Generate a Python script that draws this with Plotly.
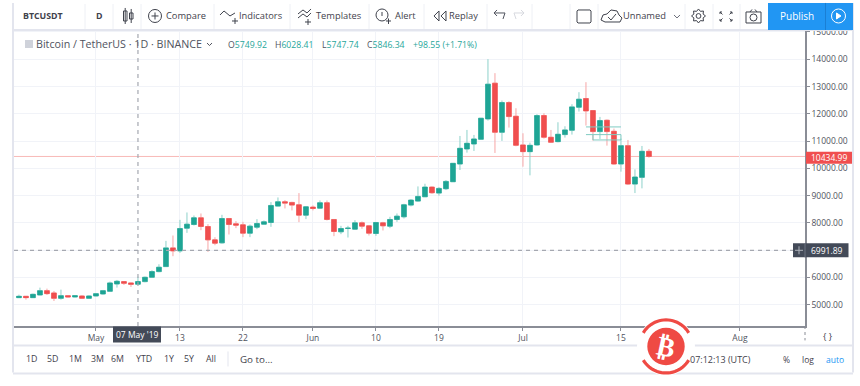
import math
import pandas as pd
import plotly.graph_objects as go

W, H = 860, 386
L, R, T, B = 14, 805, 30, 325.6

start_date = "2019-04-20"
opens = [5257,5306,5257,5355,5514,5429,5232,5330,5281,5318,5232,5318,5392,5490,5759,5845,5796,5749.92,5845,6004,
         6212,6396,7082,6972,7805,7940,8185,7866,7376,7266,8160,7965,7928,7622,7842,7952,8014,8614,8773,8749,
         8663,8283,8577,8540,8736,8124,7671,7793,7769,8001,7891,7610,8001,7879,8124,8222,8651,8798,8957,9312,
         9092,9251,9509,10158,10710,10893,11065,11812,13123,11322,12412,11910,10857,10612,10857,11935,11139,10979,11237,11396,
         12241,12560,12118,11347,11763,11359,10158,10832,9423,9668,10624]
highs = [5367,5306,5404,5625,5588,5502,5551,5343,5343,5343,5343,5416,5539,5845,5906,5857,5808,6028.41,6029,6261,
         6482,7340,7536,8111,8381,8270,8344,7952,7474,8295,8160,8063,8038,7940,8136,8087,8761,8932,8834,8773,
         9092,8614,8638,8822,8822,8124,7891,7891,8099,8050,7916,8014,8038,8222,8344,8700,8871,9337,9435,9337,
         9312,9569,10183,11187,11408,11224,11837,14005,13491,12486,12461,12204,11285,10942,11984,12020,11408,11690,11543,12351,
         12792,13160,12118,11886,11788,11457,11090,11040,9962,10820,10710]
lows = [5245,5183,5245,5343,5355,5134,5183,5269,5269,5208,5208,5306,5367,5478,5625,5722,5649,5747.74,5820,5992,
        6188,6384,6776,6898,7633,7903,7731,6935,7180,7241,7573,7805,7475,7475,7769,7940,7854,8602,8528,8455,
        8026,8136,8455,8516,8087,7511,7585,7462,7756,7781,7536,7524,7720,7805,8038,8160,8602,8773,8945,9067,
        8994,9202,9497,9938,10575,10636,11040,11751,10563,11004,11494,10808,10060,9742,10832,11090,10930,10955,11126,11236,
        12082,11567,11016,11077,10832,10134,9877,9387,9093,9265,10391]
closes = [5306,5257,5379,5514,5404,5232,5330,5281,5330,5232,5318,5404,5514,5796,5857,5784,5747,5846.34,6004,6212,
          6372,7082,6972,7793,7952,8185,7866,7376,7254,8160,7940,7916,7622,7879,7977,8038,8638,8773,8724,8651,
          8283,8589,8528,8736,8124,7683,7793,7805,8001,7879,7622,8014,7891,8124,8246,8663,8834,8969,9312,9104,
          9263,9520,10183,10734,10918,11077,11837,13086,11322,12412,11898,10844,10612,10844,11935,11139,10955,11249,11408,12253,
          12535,12106,11347,11751,11347,10158,10832,9423,9681,10624,10434.99]

y_ticks = [5000,6000,7000,8000,9000,10000,11000,12000,13000,14000,15000]
y_tick_labels = ["5000.00","6000.00","","8000.00","9000.00","10000.00","11000.00","12000.00","13000.00","14000.00","15000.00"]
x_ticks = ["2019-05-01","2019-05-13","2019-05-22","2019-06-01","2019-06-10","2019-06-19","2019-07-01","2019-07-15","2019-08-01"]
x_tick_labels = ["May","13","22","Jun","10","19","Jul","15","Aug"]

last_price = 10434.99
cross_price = 6991.89
cross_date = "2019-05-07"
level_a = 11518
level_b = 11236
level_c = 11040

TEAL, RED = "#1fa595", "#f04f4f"
TEAL_W, RED_W = "#8ed2ca", "#f7a6a6"
GRID = "#f1f3f8"
EDGE = "#e3e5ee"
INK = "#3f424c"
FONT = "Open Sans"

dates = pd.date_range(start_date, periods=len(opens), freq="D")
body_hi = [max(a, b) for a, b in zip(opens, closes)]
body_lo = [min(a, b) for a, b in zip(opens, closes)]

fig = go.Figure()
fig.add_trace(go.Candlestick(x=dates, open=opens, high=highs, low=lows, close=closes,
    increasing=dict(line=dict(color=TEAL_W, width=1), fillcolor=TEAL_W),
    decreasing=dict(line=dict(color=RED_W, width=1), fillcolor=RED_W),
    showlegend=False, hoverinfo="skip"))
fig.add_trace(go.Candlestick(x=dates, open=opens, high=body_hi, low=body_lo, close=closes,
    increasing=dict(line=dict(color=TEAL, width=0.5), fillcolor=TEAL),
    decreasing=dict(line=dict(color=RED, width=0.5), fillcolor=RED),
    showlegend=False))
for xs, ys in [(["2019-07-10","2019-07-15"], [level_a, level_a]),
               (["2019-07-10","2019-07-15"], [level_b, level_b]),
               (["2019-07-11","2019-07-15"], [level_c, level_c]),
               (["2019-07-11","2019-07-11"], [level_b, level_c]),
               (["2019-07-15","2019-07-15"], [level_b, level_c])]:
    fig.add_trace(go.Scatter(x=xs, y=ys, mode="lines", line=dict(color="#7fcbc2", width=1),
                             showlegend=False, hoverinfo="skip"))

def X(x): return (x - L) / (R - L)
def Y(y): return (B - y) / (B - T)

shapes, notes = [], []
def line(x0, y0, x1, y1, c=EDGE, w=1, dash=None):
    shapes.append(dict(type="line", xref="paper", yref="paper", x0=X(x0), y0=Y(y0), x1=X(x1), y1=Y(y1),
                       line=dict(color=c, width=w, dash=dash or "solid"), layer="above"))
def rect(x0, y0, x1, y1, fill=None, c=None, w=1):
    shapes.append(dict(type="rect", xref="paper", yref="paper", x0=X(x0), y0=Y(y0), x1=X(x1), y1=Y(y1),
                       fillcolor=fill or "rgba(0,0,0,0)", line=dict(color=c or "rgba(0,0,0,0)", width=w if c else 0), layer="above"))
def circle(cx, cy, r, fill=None, c=None, w=1):
    shapes.append(dict(type="circle", xref="paper", yref="paper", x0=X(cx-r), y0=Y(cy-r), x1=X(cx+r), y1=Y(cy+r),
                       fillcolor=fill or "rgba(0,0,0,0)", line=dict(color=c or "rgba(0,0,0,0)", width=w if c else 0), layer="above"))
def poly(pts, c=INK, w=1, fill=None, closed=False):
    p = "M " + " L ".join(f"{X(a):.5f},{Y(b):.5f}" for a, b in pts) + (" Z" if closed else "")
    shapes.append(dict(type="path", xref="paper", yref="paper", path=p, layer="above",
                       fillcolor=fill or "rgba(0,0,0,0)", line=dict(color=c, width=w)))
def text(x, y, s, anchor="left", size=9, c=INK, **kw):
    notes.append(dict(xref="paper", yref="paper", x=X(x), y=Y(y), text=s, showarrow=False, xanchor=anchor,
                      yanchor="middle", borderpad=0, borderwidth=0, font=dict(family=FONT, size=size, color=c), **kw))
def arc(cx, cy, r, a0, a1, c, w):
    pts = [(cx + r*math.sin(math.radians(a0 + (a1-a0)*i/24)), cy - r*math.cos(math.radians(a0 + (a1-a0)*i/24))) for i in range(25)]
    poly(pts, c=c, w=w)

# Panel frame and toolbars
rect(13, 3, 853, 30, fill="white")
line(13, 30, 853, 30, c=EDGE, w=2)
line(13, 3, 13, 372, c=EDGE, w=2)
line(853, 3, 853, 372, c=EDGE, w=2)
line(13, 345, 853, 345, c=EDGE, w=2)
line(13, 373, 853, 373, c=EDGE, w=2)
for sx in [85, 113, 141, 214, 290, 369, 424, 487, 532, 570, 598, 685, 713, 740]:
    line(sx, 4, sx, 29, c="#eef0f5")
line(228, 351, 228, 366, c=EDGE)
line(805, 325.6, 805, 340, c="#8a8d96", w=1, dash="dot")

# Toolbar text
text(23, 16, "<b>BTCUSDT</b>", size=8.8)
text(99, 16, "<b>D</b>", "center", size=8.8)
text(166, 16, "Compare", size=9.3)
text(239, 16, "Indicators", size=9.3)
text(316, 16, "Templates", size=9.3)
text(395, 16, "Alert", size=9.3)
text(449, 16, "Replay", size=9.3)
text(623, 16, "Unnamed", size=9.3)

# Toolbar icons
rect(123.5, 11, 127, 21, c=INK); line(125.2, 8, 125.2, 24, c=INK)
rect(129.5, 13, 133, 19, c=INK); line(131.2, 9, 131.2, 23, c=INK)
circle(155, 16, 6.5, c=INK); line(151.5, 16, 158.5, 16, c=INK); line(155, 12.5, 155, 19.5, c=INK)
poly([(220, 15), (224, 11), (230, 16), (235, 13)], w=1); line(232, 21, 238, 21, c=INK); line(235, 18, 235, 24, c=INK)
poly([(298, 14), (303, 10), (307, 13), (311, 9)], w=1); poly([(298, 18), (303, 14), (307, 17), (311, 13)], w=1)
line(305, 22, 311, 22, c=INK); line(308, 19, 308, 25, c=INK)
circle(382, 15, 6, c=INK); line(382, 12, 382, 16, c=INK); line(386, 21, 391, 21, c=INK); line(388.5, 18.5, 388.5, 24, c=INK)
poly([(439, 11), (434, 16), (439, 21), (439, 11)], w=1); poly([(446, 11), (441, 16), (446, 21), (446, 11)], w=1)
poly([(494, 13), (505, 13), (503, 19)], c="#50535e"); poly([(497, 10), (494, 13), (497, 16)], c="#50535e")
poly([(524, 13), (514, 13), (516, 19)], c="#d7d9df"); poly([(521, 10), (524, 13), (521, 16)], c="#d7d9df")
poly([(578, 10), (590, 10), (591, 11), (591, 22), (590, 23), (578, 23), (577, 22), (577, 11)], closed=True)
poly([(605, 22), (601, 20), (603, 15), (607, 14), (611, 10), (617, 11), (619, 15), (622, 18), (620, 22), (605, 22)], w=1)
poly([(608, 17), (611, 20), (616, 14)], w=1)
poly([(674, 15), (677, 18), (680, 15)], c="#6a6d78")
gear = []
for i in range(16):
    r_g = 7 if i % 2 == 0 else 5
    a_g = math.radians(i * 22.5)
    gear.append((698.5 + r_g * math.cos(a_g), 16 + r_g * math.sin(a_g)))
poly(gear, closed=True); circle(698.5, 16, 2.4, c=INK)
for cx_, cy_, sx_, sy_ in [(720, 12, 1, 1), (732, 12, -1, 1), (720, 21, 1, -1), (732, 21, -1, -1)]:
    line(cx_, cy_, cx_ + 2.5*sx_, cy_ + 2.5*sy_, c=INK)
    poly([(cx_ + 2*sx_, cy_), (cx_, cy_), (cx_, cy_ + 2*sy_)])
rect(746, 12, 761, 23, c=INK); circle(753.5, 17.5, 3.5, c=INK); line(750, 12, 752, 9.5, c=INK); line(757, 12, 755, 9.5, c=INK)
rect(768, 3, 853, 30, fill="#2196f3")
line(825.5, 3, 825.5, 30, c="#1a7fd4")
text(796.5, 16, "Publish", "center", size=10, c="white")
circle(838.5, 16, 7, c="white")
poly([(836.5, 13), (841, 16), (836.5, 19)], c="white", fill="white", closed=True)

# Legend strip
rect(25, 40, 33, 48, fill="#cfd2da")
text(36, 44, "Bitcoin / TetherUS · 1D · BINANCE", size=10.7, c="#50535e")
poly([(207, 43), (209.5, 45.5), (212, 43)], c="#50535e")
def ohlc(x, k, v):
    text(x, 44.5, f"<span style='color:#50535e'>{k}</span><span style='color:#26a69a'>{v}</span>", size=8.7)
ohlc(228, "O", "5749.92"); ohlc(275, "H", "6028.41"); ohlc(322, "L", "5747.74"); ohlc(367, "C", "5846.34")
text(413, 44.5, "+98.55 (+1.71%)", size=8.7, c="#26a69a")

# Price tags
rect(806, 151.5, 852, 163.5, fill="#f04f4f")
text(829, 157.3, f"{last_price:.2f}", "center", size=8.5, c="white")
rect(793, 243, 848.5, 257, fill="#434a58")
line(805, 243, 805, 257, c="#6d7380")
line(795, 250, 803, 250, c="#aeb2bb"); line(799, 246, 799, 254, c="#aeb2bb")
text(827, 250, f"{cross_price:.2f}", "center", size=8.5, c="white")
rect(113, 326, 161, 342, fill="#434a58")
text(137, 334, "07 May '19", "center", size=8.5, c="white")

# Range row
for px, lab in [(31, "1D"), (52, "5D"), (75, "1M"), (97, "3M"), (118, "6M"), (144, "YTD"), (169, "1Y"), (189, "5Y"), (211, "All")]:
    text(px, 359, lab, "center", size=8.8)
text(240, 359, "Go to...", size=9.8)
text(690, 359, "07:12:13 (UTC)", size=9)
text(786, 359, "%", "center", size=8.5)
text(808, 359, "log", "center", size=8.5)
text(835, 359, "auto", "center", size=8.5, c="#2196f3")
text(828, 336, "{ }", "center", size=9)

# Watermark
WM = "#ef4a44"
circle(666, 346, 29, fill="white")
arc(666, 346, 26.5, -59, 59, WM, 3.2)
arc(666, 346, 26.5, 121, 239, WM, 3.2)
circle(666, 346, 18.7, fill=WM)
text(666, 346, "<b>₿</b>", "center", size=27, c="white", textangle=12)
notes[-1]["font"]["family"] = "DejaVu Sans"

# Chart-coordinate lines
shapes.append(dict(type="line", xref="paper", yref="y", x0=0, x1=1, y0=last_price, y1=last_price,
                   line=dict(color="#f8b9b7", width=1), layer="below"))
shapes.append(dict(type="line", xref="paper", yref="y", x0=0, x1=X(793), y0=cross_price, y1=cross_price,
                   line=dict(color="#a5a8b0", width=1.2, dash="4px,4px"), layer="above"))
shapes.append(dict(type="line", xref="x", yref="paper", x0=cross_date, x1=cross_date, y0=0, y1=1,
                   line=dict(color="#a5a8b0", width=1.2, dash="4px,4px"), layer="above"))

fig.update_layout(
    width=W, height=H, autosize=False,
    margin=dict(l=L, r=W-R, t=T, b=H-B, pad=0),
    paper_bgcolor="white", plot_bgcolor="white", showlegend=False,
    boxgap=0.15, boxgroupgap=0.2,
    shapes=shapes, annotations=notes,
    font=dict(family=FONT, size=8.5, color="#50535e"),
    xaxis=dict(type="date", range=["2019-04-19 07:00", "2019-08-10 07:00"], tickmode="array",
               tickvals=x_ticks, ticktext=x_tick_labels, showgrid=True, gridcolor=GRID, gridwidth=1,
               ticks="outside", ticklen=3, tickcolor="#8a8d96", showline=True, linecolor="#8a8d96", linewidth=1.5,
               rangeslider=dict(visible=False), zeroline=False, tickfont=dict(family=FONT, size=8.5, color="#50535e")),
    yaxis=dict(side="right", range=[4217, 15073], tickmode="array", tickvals=y_ticks, ticktext=y_tick_labels,
               showgrid=True, gridcolor=GRID, gridwidth=1, ticks="outside", ticklen=3, tickcolor="#8a8d96",
               showline=True, linecolor="#8a8d96", linewidth=1.5, zeroline=False,
               tickfont=dict(family=FONT, size=8.5, color="#50535e")),
)
fig.write_html("out.html", config=dict(displayModeBar=False),
               post_script="document.body.style.margin='0';document.documentElement.style.overflow='hidden';")
